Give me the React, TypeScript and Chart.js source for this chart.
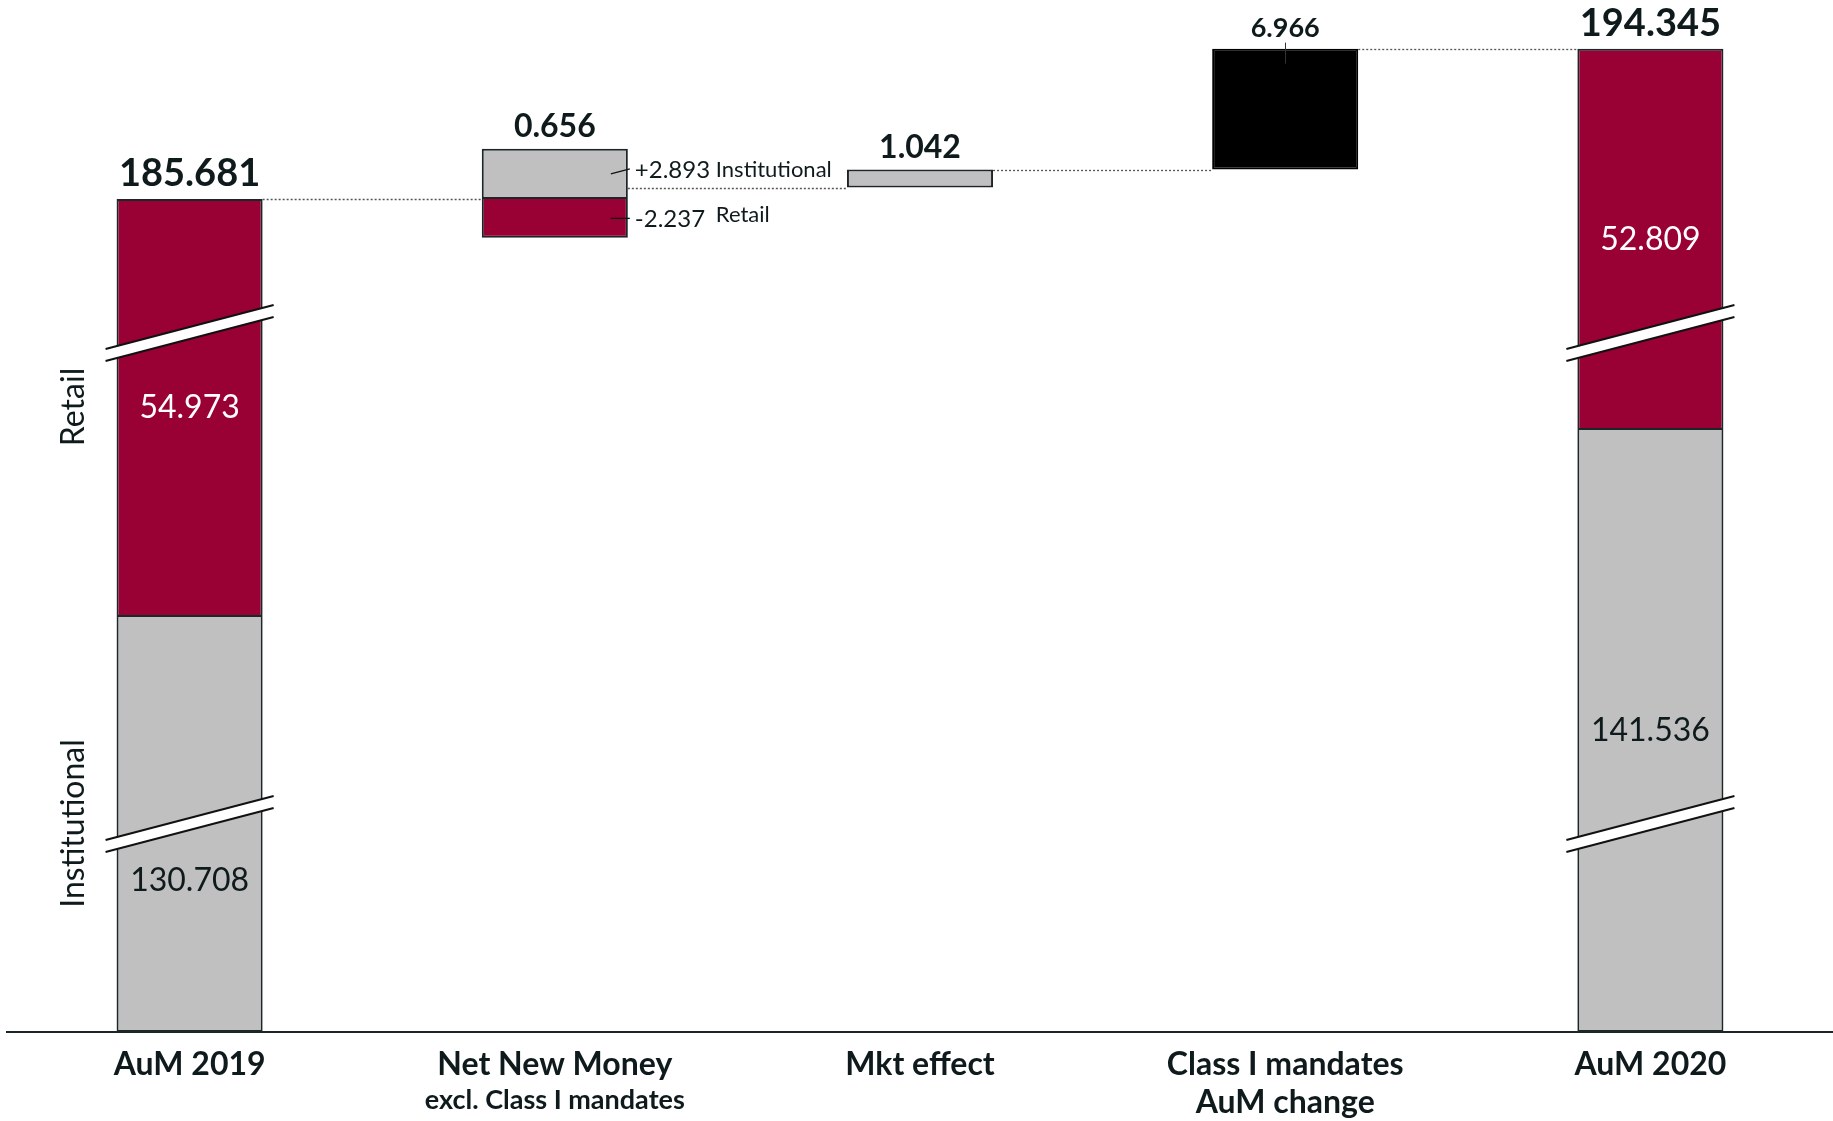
import React, { useEffect, useRef } from 'react';
import { Chart, LinearScale, registerables } from 'chart.js';

// ---------------- data ----------------
const categories: (string | string[])[] = [
  'AuM 2019',
  'Net New Money',
  'Mkt effect',
  ['Class I mandates', 'AuM change'],
  'AuM 2020',
];
const categorySubtitles = ['', 'excl. Class I mandates', '', '', ''];
const segmentNames = ['Institutional', 'Retail'];
const aum2019 = [130.708, 54.973]; // Institutional, Retail
const aum2020 = [141.536, 52.809]; // Institutional, Retail
const netNewMoney = [2.893, -2.237]; // Institutional, Retail
const mktEffect = [1.042];
const classIMandatesChange = [6.966];

// derived waterfall levels
const total2019 = aum2019[0] + aum2019[1];
const nnmTotal = netNewMoney[0] + netNewMoney[1];
const afterNNM = total2019 + nnmTotal;
const afterMkt = afterNNM + mktEffect[0];
const afterClassI = afterMkt + classIMandatesChange[0];
const total2020 = aum2020[0] + aum2020[1];

const institutionalData = [
  [0, aum2019[0]],
  [total2019, total2019 + netNewMoney[0]],
  null,
  null,
  [0, aum2020[0]],
];
const retailData = [
  [aum2019[0], total2019],
  [total2019 + netNewMoney[1], total2019],
  null,
  null,
  [aum2020[0], total2020],
];
const mktData = [null, null, [afterNNM, afterMkt], null, null];
const classIData = [null, null, null, [afterMkt, afterClassI], null];

// ---------------- styling ----------------
const RED = '#990033';
const GREY = '#c0c0c0';
const BLACK = '#000000';
const BORDER = '#1c2629';
const TEXT = '#0f1a1c';
const FONT = 'Lato, "Noto Sans", sans-serif';

// broken value axis: [value, fraction of plot height from bottom]
const Y_MAX = 197.15;
const Y_KNOTS: [number, number][] = [
  [0, 0],
  [aum2019[0], 0.4041],
  [aum2020[0], 0.5853],
  [183, 0.7621],
  [total2019, 0.8072],
  [Y_MAX, 1],
];
// break-mark positions (fraction of plot height from bottom)
const BREAK_FRACS = [0.6773, 0.2016];

class BrokenScale extends LinearScale {
  static id = 'broken';
  getPixelForValue(value: any) {
    if (value === null || value === undefined || isNaN(value)) return NaN;
    const k = Y_KNOTS;
    let i = 0;
    while (i < k.length - 2 && value > k[i + 1][0]) i++;
    const [v0, f0] = k[i];
    const [v1, f1] = k[i + 1];
    const f = f0 + ((value - v0) / (v1 - v0)) * (f1 - f0);
    return this.bottom - f * (this.bottom - this.top);
  }
  getValueForPixel(pixel: number) {
    const f = (this.bottom - pixel) / (this.bottom - this.top);
    const k = Y_KNOTS;
    let i = 0;
    while (i < k.length - 2 && f > k[i + 1][1]) i++;
    const [v0, f0] = k[i];
    const [v1, f1] = k[i + 1];
    return v0 + ((f - f0) / (f1 - f0)) * (v1 - v0);
  }
}

Chart.register(...registerables, BrokenScale);

const fmt = (v: number) => v.toFixed(3);
const signed = (v: number) => (v >= 0 ? '+' : '-') + Math.abs(v).toFixed(3);

function barGeom(chart: any, index: number) {
  for (let d = 0; d < chart.data.datasets.length; d++) {
    const v = chart.data.datasets[d].data[index];
    if (v !== null && v !== undefined) {
      const el: any = chart.getDatasetMeta(d).data[index];
      return { x: el.x as number, w: el.width as number };
    }
  }
  return { x: 0, w: 0 };
}

const breakPlugin = {
  id: 'breakMarks',
  afterDatasetsDraw(chart: any) {
    const { ctx, chartArea } = chart;
    const slope = 0.262;
    [0, 4].forEach((idx) => {
      const { x, w } = barGeom(chart, idx);
      BREAK_FRACS.forEach((fr) => {
        const yc = chartArea.bottom - fr * (chartArea.bottom - chartArea.top);
        const xl = x - w / 2 - 11;
        const xr = x + w / 2 + 11;
        const yAt = (xx: number, off: number) => yc - slope * (xx - x) + off;
        ctx.save();
        ctx.fillStyle = '#ffffff';
        ctx.beginPath();
        ctx.moveTo(xl, yAt(xl, -6));
        ctx.lineTo(xr, yAt(xr, -6));
        ctx.lineTo(xr, yAt(xr, 6));
        ctx.lineTo(xl, yAt(xl, 6));
        ctx.closePath();
        ctx.fill();
        ctx.strokeStyle = '#111111';
        ctx.lineWidth = 2;
        [-6, 6].forEach((off) => {
          ctx.beginPath();
          ctx.moveTo(xl, yAt(xl, off));
          ctx.lineTo(xr, yAt(xr, off));
          ctx.stroke();
        });
        ctx.restore();
      });
    });
  },
};

const annotationPlugin = {
  id: 'annotations',
  afterDraw(chart: any) {
    const { ctx, chartArea } = chart;
    const ys = chart.scales.y;
    const xs = chart.scales.x;
    const py = (v: number) => ys.getPixelForValue(v);
    const breakYs = BREAK_FRACS.map((fr) => chartArea.bottom - fr * (chartArea.bottom - chartArea.top));
    ctx.save();

    // dotted connectors
    const levels = [total2019, afterNNM, afterMkt, afterClassI];
    ctx.strokeStyle = '#555555';
    ctx.lineWidth = 1.3;
    ctx.setLineDash([2, 2]);
    levels.forEach((lv, i) => {
      const a = barGeom(chart, i);
      const b = barGeom(chart, i + 1);
      const y = Math.round(py(lv)) + 0.5;
      ctx.beginPath();
      ctx.moveTo(a.x + a.w / 2, y);
      ctx.lineTo(b.x - b.w / 2, y);
      ctx.stroke();
    });
    ctx.setLineDash([]);

    ctx.fillStyle = TEXT;
    ctx.textAlign = 'center';
    ctx.textBaseline = 'alphabetic';

    // value labels above bars
    const tops: [number, number, string, number, number][] = [
      [0, total2019, fmt(total2019), 38, 13],
      [1, total2019 + netNewMoney[0], fmt(nnmTotal), 32, 12],
      [2, afterMkt, fmt(mktEffect[0]), 32, 12],
      [3, afterClassI, fmt(classIMandatesChange[0]), 27, 12],
      [4, total2020, fmt(total2020), 38, 13],
    ];
    tops.forEach(([idx, v, txt, size, gap]) => {
      const { x } = barGeom(chart, idx);
      ctx.font = `bold ${size}px ${FONT}`;
      ctx.fillText(txt, x, py(v) - gap);
    });
    // tick for Class I label
    {
      const { x } = barGeom(chart, 3);
      const t = py(afterClassI);
      ctx.strokeStyle = '#333333';
      ctx.lineWidth = 1;
      ctx.beginPath();
      ctx.moveTo(Math.round(x) + 0.5, t - 6);
      ctx.lineTo(Math.round(x) + 0.5, t + 15);
      ctx.stroke();
    }

    // labels inside the total bars
    const inBar = (idx: number, lo: number, hi: number, txt: string, color: string) => {
      const { x } = barGeom(chart, idx);
      let mid = (py(lo) + py(hi)) / 2;
      breakYs.forEach((by) => {
        if (Math.abs(mid - by) < 30) mid = by + 56;
      });
      ctx.font = `32px ${FONT}`;
      ctx.fillStyle = color;
      ctx.fillText(txt, x, mid + 11.5);
    };
    inBar(0, aum2019[0], total2019, fmt(aum2019[1]), '#ffffff');
    inBar(0, 0, aum2019[0], fmt(aum2019[0]), TEXT);
    inBar(4, aum2020[0], total2020, fmt(aum2020[1]), '#ffffff');
    inBar(4, 0, aum2020[0], fmt(aum2020[0]), TEXT);

    // vertical segment names
    ctx.fillStyle = TEXT;
    ctx.font = `32px ${FONT}`;
    const sideX = chartArea.left + 77;
    const segMids = [(py(0) + py(aum2019[0])) / 2, (py(aum2019[0]) + py(total2019)) / 2];
    segmentNames.forEach((name, i) => {
      ctx.save();
      ctx.translate(sideX, segMids[i]);
      ctx.rotate(-Math.PI / 2);
      ctx.textAlign = 'center';
      ctx.fillText(name, 0, 0);
      ctx.restore();
    });

    // NNM breakdown annotations
    {
      const { x, w } = barGeom(chart, 1);
      const right = x + w / 2;
      const gMid = (py(total2019) + py(total2019 + netNewMoney[0])) / 2;
      const rMid = (py(total2019) + py(total2019 + netNewMoney[1])) / 2;
      ctx.strokeStyle = '#111111';
      ctx.lineWidth = 1.3;
      ctx.beginPath();
      ctx.moveTo(right - 17, gMid);
      ctx.lineTo(right + 2, gMid - 5);
      ctx.stroke();
      ctx.beginPath();
      ctx.moveTo(right - 17, rMid);
      ctx.lineTo(right + 2, rMid);
      ctx.stroke();
      ctx.textAlign = 'left';
      ctx.fillStyle = TEXT;
      ctx.font = `24px ${FONT}`;
      ctx.fillText(signed(netNewMoney[0]), right + 7, gMid + 4);
      ctx.font = `22px ${FONT}`;
      ctx.fillText(segmentNames[0], right + 88, gMid + 3);
      ctx.font = `24px ${FONT}`;
      ctx.fillText(signed(netNewMoney[1]), right + 7, rMid + 9);
      ctx.font = `22px ${FONT}`;
      ctx.fillText(segmentNames[1], right + 88, rMid + 4);
    }

    // category labels
    ctx.textAlign = 'center';
    ctx.fillStyle = TEXT;
    (chart.data.labels as (string | string[])[]).forEach((lab, i) => {
      const x = xs.getPixelForValue(i);
      const lines = Array.isArray(lab) ? lab : [lab];
      ctx.font = `bold 32px ${FONT}`;
      lines.forEach((ln, j) => {
        ctx.fillText(ln, x, chartArea.bottom + 43 + j * 38);
      });
      if (categorySubtitles[i]) {
        ctx.font = `bold 27px ${FONT}`;
        ctx.fillText(categorySubtitles[i], x, chartArea.bottom + 77);
      }
    });

    ctx.restore();
  },
};

export default function App() {
  const ref = useRef<HTMLCanvasElement>(null);
  useEffect(() => {
    if (!ref.current) return;
    const chart = new Chart(ref.current, {
      type: 'bar',
      data: {
        labels: categories as any,
        datasets: [
          {
            label: 'Institutional',
            data: institutionalData as any,
            backgroundColor: GREY,
            borderColor: BORDER,
            borderSkipped: false,
          },
          {
            label: 'Retail',
            data: retailData as any,
            backgroundColor: RED,
            borderColor: BORDER,
            borderSkipped: ((c: any) => (c.dataIndex === 1 ? 'top' : 'bottom')) as any,
          },
          {
            label: 'Mkt effect',
            data: mktData as any,
            backgroundColor: GREY,
            borderColor: BORDER,
            borderSkipped: false,
          },
          {
            label: 'Class I mandates AuM change',
            data: classIData as any,
            backgroundColor: BLACK,
            borderColor: BLACK,
            borderSkipped: false,
          },
        ],
      },
      options: {
        responsive: true,
        maintainAspectRatio: false,
        animation: false,
        events: [],
        layout: { padding: { left: 7, right: 0, top: 0, bottom: 0 } },
        plugins: { legend: { display: false }, tooltip: { enabled: false } },
        datasets: {
          bar: {
            grouped: false,
            barPercentage: 0.4,
            categoryPercentage: 1,
            borderWidth: 2,
          },
        },
        scales: {
          x: {
            type: 'category',
            grid: { display: false },
            ticks: { display: false },
            border: { display: true, color: BORDER, width: 2 },
            afterFit: (s: any) => {
              s.height = 89;
            },
          },
          y: {
            type: 'broken' as any,
            display: false,
            min: 0,
            max: Y_MAX,
          },
        } as any,
      },
      plugins: [breakPlugin, annotationPlugin],
    });
    return () => chart.destroy();
  }, []);
  return (
    <div style={{ position: 'absolute', left: 0, top: 0, width: 1833, height: 1121, background: '#ffffff' }}>
      <canvas ref={ref} />
    </div>
  );
}
